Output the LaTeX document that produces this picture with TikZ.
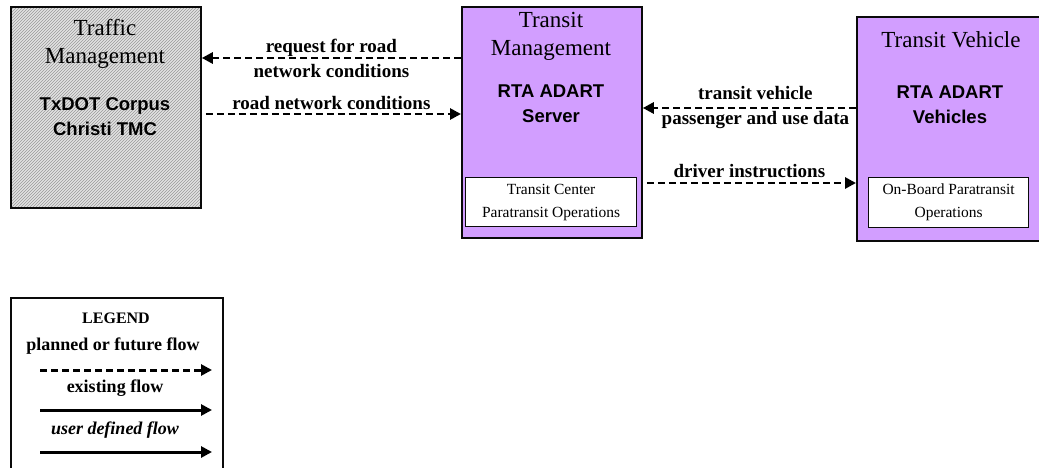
\documentclass[tikz,border=0pt]{standalone}
\usepackage{fontspec}
\setmainfont{Liberation Serif}
\setsansfont{Liberation Sans}
\usepackage{tikz}
\usetikzlibrary{
  arrows.meta,
  positioning,
  patterns
}
\definecolor{lilac}{RGB}{210,158,255}
\definecolor{inkblack}{RGB}{10,10,10}
\newcommand{\fsz}[2]{\fontsize{#1}{#2}\selectfont}
\tikzset{
  entity/.style={draw=inkblack,line width=1.8pt,anchor=north west,inner sep=0pt},
  subsys/.style={draw=inkblack,fill=white,line width=1.2pt,anchor=north west,
    align=center,inner sep=0pt,font=\fsz{15.5}{23}},
  title/.style={align=center,inner sep=0pt,font=\fsz{23}{28}},
  ident/.style={align=center,inner sep=0pt,font=\sffamily\bfseries\fsz{18.5}{25}},
  flowlabel/.style={align=center,inner sep=0pt,font=\bfseries\fsz{19}{25}},
  legtext/.style={align=center,inner sep=0pt,font=\bfseries\fsz{18}{22}},
  planned/.style={line width=2.8pt,dash pattern=on 7pt off 4pt,
    -{Triangle[length=11pt,width=11pt]}},
  existing/.style={line width=3pt,-{Triangle[length=11pt,width=11pt]}}
}

\begin{document}
\begin{tikzpicture}[x=1pt,y=-1pt]
  \clip (0,0) rectangle (1039,468);
  % traffic management
  \node[entity,preaction={fill=gray!22},pattern=north east lines,
    pattern color=gray!80,minimum width=190pt,minimum height=201pt] (tmc) at (10,6) {};
  \node[title] (tmctitle) at (105,44) {Traffic\\Management};
  \node[ident] (tmcname) at (105,117) {TxDOT Corpus\\Christi TMC};
  % transit management
  \node[entity,fill=lilac,minimum width=180pt,minimum height=231pt] (tms) at (461,6) {};
  \node[title] (tmstitle) at (551,36) {Transit\\Management};
  \node[ident] (tmsname) at (551,104) {RTA ADART\\Server};
  \node[subsys,minimum width=171pt,minimum height=49pt] (tcpo) at (465,177)
    {Transit Center\\Paratransit Operations};
  % transit vehicle
  \node[entity,fill=lilac,minimum width=190pt,minimum height=224pt] (tv) at (856,16) {};
  \node[title] (tvtitle) at (951,40) {Transit Vehicle};
  \node[ident] (tvname) at (950,105) {RTA ADART\\Vehicles};
  \node[subsys,minimum width=160pt,minimum height=50pt] (obpo) at (868,177)
    {On-Board Paratransit\\Operations};
  % flows
  \draw[planned] (tms.west |- 0,58) -- (tmc.east |- 0,58)
    node[flowlabel,midway] {request for road\\network conditions};
  \draw[planned,shorten <=4pt] (tmc.east |- 0,114) -- (tms.west |- 0,114)
    node[flowlabel,midway,above=3pt] {road network conditions};
  \draw[planned] (tv.west |- 0,108) -- (tms.east |- 0,108)
    node[flowlabel,midway,xshift=6pt] {transit vehicle\\passenger and use data};
  \draw[planned,shorten <=4pt] (tms.east |- 0,183) -- (tv.west |- 0,183)
    node[flowlabel,midway,above=4pt] {driver instructions};
  % legend
  \node[entity,minimum width=212pt,minimum height=190pt] (legend) at (10,297) {};
  \node[legtext,font=\bfseries\fsz{16}{20}] (legtitle) at (116,318) {LEGEND};
  \node[legtext] (legplanned) at (113,346) {planned or future flow};
  \coordinate (pl0) at (40,370);
  \coordinate (pl1) at (212,370);
  \draw[planned,line width=3pt] (pl0) -- (pl1);
  \node[legtext] (legexist) at (115,388) {existing flow};
  \coordinate (ex0) at (40,410);
  \coordinate (ex1) at (212,410);
  \draw[existing] (ex0) -- (ex1);
  \node[legtext,font=\bfseries\itshape\fsz{18}{22}] (leguser) at (115,430) {user defined flow};
  \coordinate (us0) at (40,452);
  \coordinate (us1) at (212,452);
  \draw[existing] (us0) -- (us1);
\end{tikzpicture}
\end{document}
